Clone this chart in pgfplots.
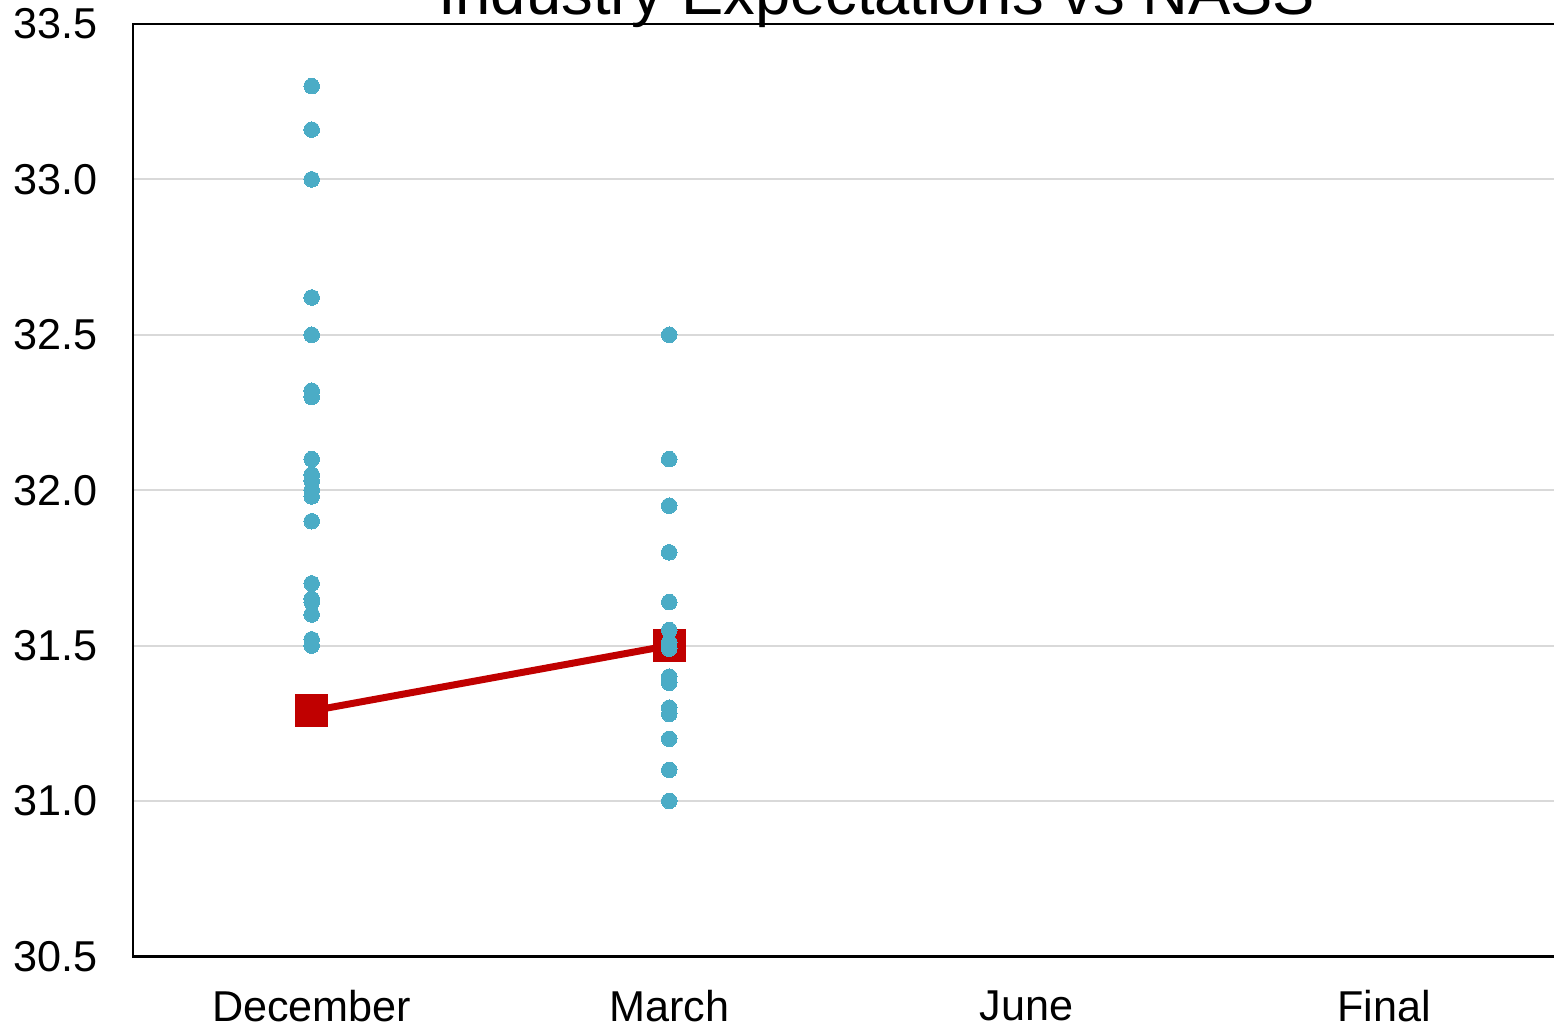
\documentclass[border=0pt]{standalone}
\usepackage{pgfplots}
\pgfplotsset{compat=1.18}
\usepackage{fontspec}
\setmainfont{Liberation Sans}
\definecolor{dotblue}{HTML}{4BACC6}
\definecolor{nassred}{HTML}{C00000}
\definecolor{gridgray}{HTML}{D9D9D9}
\begin{document}
\begin{tikzpicture}
\begin{axis}[
  scale only axis, width=357.75pt, height=233.25pt,
  xmin=0, xmax=4, ymin=30.5, ymax=33.5,
  xtick={0.5,1.5,2.5,3.5}, xticklabels={December,March,June,Final},
  ytick={30.5,31,31.5,32,32.5,33,33.5},
  ymajorgrids, grid style={gridgray, line width=0.5pt},
  major tick length=0pt,
  axis line style={black, line width=0.6pt},
  yticklabel style={/pgf/number format/fixed, /pgf/number format/fixed zerofill, /pgf/number format/precision=1, /pgf/number format/assume math mode=true, xshift=-5.3pt},
  ticklabel style={font=\fontsize{10.8}{12}\selectfont},
  xticklabel style={yshift=-5.0pt},
  title={Industry Expectations vs NASS},
  title style={font=\fontsize{15.85}{18}\selectfont, anchor=base, at={(0.520,1)}, yshift=-3.75pt},
  clip=false,
]
\addplot[nassred, line width=1.75pt, mark=square*, mark size=3.9pt,
  mark options={fill=nassred, draw=nassred, line width=0.4pt}] coordinates {
  (0.5,31.29) (1.5,31.50)
};
\addplot[dotblue, only marks, mark=*, mark size=1.95pt, mark options={fill=dotblue, draw=dotblue, line width=0pt}] table {
x y
0.5 33.30
0.5 33.16
0.5 33.00
0.5 32.62
0.5 32.50
0.5 32.32
0.5 32.30
0.5 32.10
0.5 32.05
0.5 32.03
0.5 32.00
0.5 31.98
0.5 31.90
0.5 31.70
0.5 31.65
0.5 31.64
0.5 31.60
0.5 31.52
0.5 31.50
1.5 32.50
1.5 32.10
1.5 31.95
1.5 31.80
1.5 31.64
1.5 31.55
1.5 31.51
1.5 31.49
1.5 31.40
1.5 31.38
1.5 31.30
1.5 31.28
1.5 31.20
1.5 31.10
1.5 31.00
};
\end{axis}
\pgfresetboundingbox
\path[use as bounding box] ([xshift=-33.25pt,yshift=-17.25pt]current axis.south west) rectangle ([xshift=-2.25pt,yshift=6pt]current axis.north east);
\end{tikzpicture}
\end{document}
